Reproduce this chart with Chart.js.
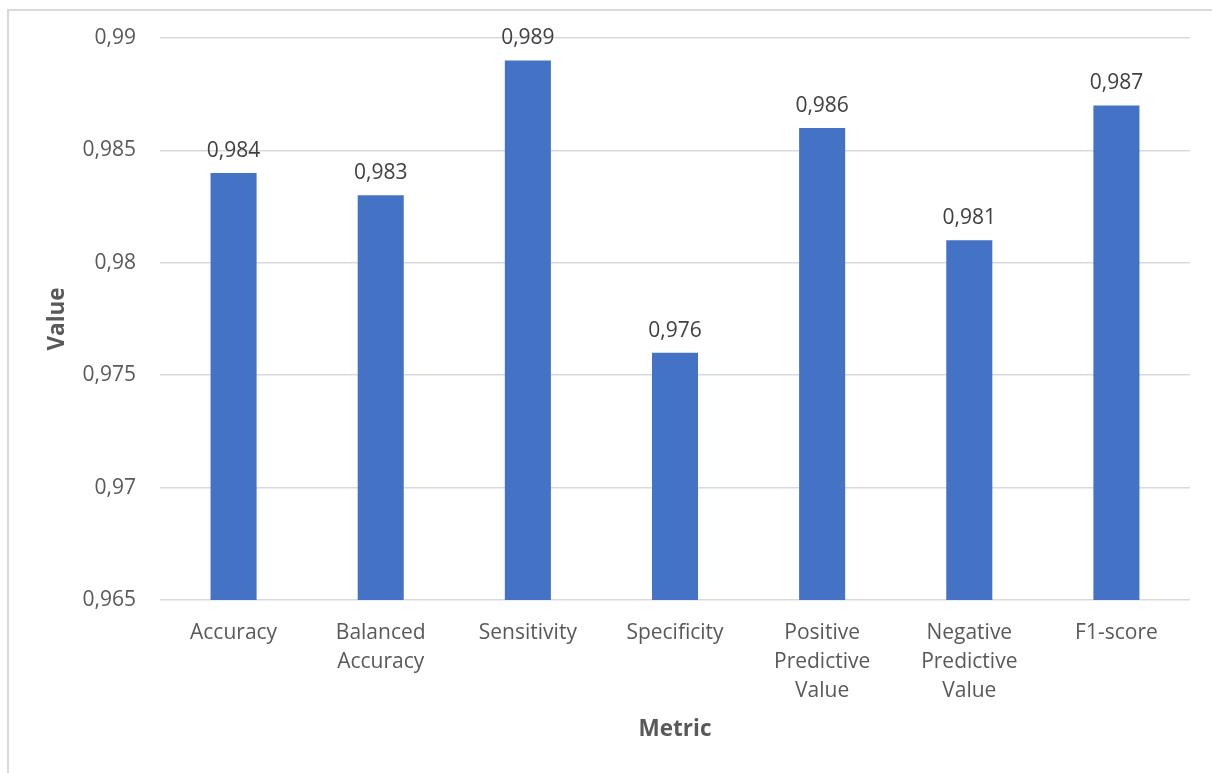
<!DOCTYPE html>
<html>
<head>
<meta charset="utf-8">
<script src="https://cdn.jsdelivr.net/npm/chart.js@4/dist/chart.umd.min.js"></script>
<style>
  html, body { margin: 0; padding: 0; background: #fff; overflow: hidden; }
  #frame {
    position: absolute; left: 7px; top: 9px; width: 1400px; height: 1000px;
    border: 2px solid #d9d9d9; box-sizing: border-box;
  }
  #wrap { position: absolute; left: 0; top: 0; width: 1212px; height: 773px; }
</style>
</head>
<body>
<div id="frame"></div>
<div id="wrap"><canvas id="metrics"></canvas></div>
<script>
const metricNames = [
  'Accuracy',
  ['Balanced', 'Accuracy'],
  'Sensitivity',
  'Specificity',
  ['Positive', 'Predictive', 'Value'],
  ['Negative', 'Predictive', 'Value'],
  'F1-score'
];
const metricValues = [0.984, 0.983, 0.989, 0.976, 0.986, 0.981, 0.987];
const yMin = 0.965;
const yMax = 0.99;
const yStep = 0.005;

const fontFamily = '"Open Sans", Lato, sans-serif';

function commaNum(v) {
  return Number(v.toFixed(3)).toString().replace('.', ',');
}

// value labels above each bar
const barValueLabels = {
  id: 'barValueLabels',
  afterDatasetsDraw(chart) {
    const ctx = chart.ctx;
    const meta = chart.getDatasetMeta(0);
    ctx.save();
    ctx.font = '21px ' + fontFamily;
    ctx.fillStyle = '#404040';
    ctx.textAlign = 'center';
    ctx.textBaseline = 'middle';
    meta.data.forEach((bar, i) => {
      ctx.fillText(commaNum(chart.data.datasets[0].data[i]), bar.x, bar.y - 22);
    });
    ctx.restore();
  }
};

new Chart(document.getElementById('metrics'), {
  type: 'bar',
  data: {
    labels: metricNames,
    datasets: [{
      label: 'Value',
      data: metricValues,
      backgroundColor: '#4472c4',
      categoryPercentage: 1,
      barPercentage: 0.313
    }]
  },
  options: {
    responsive: true,
    maintainAspectRatio: false,
    animation: false,
    layout: { padding: { left: 40, top: 38, right: 22, bottom: 26 } },
    plugins: {
      legend: { display: false },
      tooltip: { enabled: false }
    },
    scales: {
      x: {
        grid: { display: false },
        border: { display: false },
        ticks: {
          color: '#595959',
          font: { family: fontFamily, size: 21, lineHeight: '29px' },
          padding: 11,
          maxRotation: 0,
          autoSkip: false
        },
        title: {
          display: true,
          text: 'Metric',
          color: '#595959',
          font: { family: fontFamily, size: 22.5, weight: 'bold' },
          padding: 4
        },
        afterFit(scale) { scale.height = 147; }
      },
      y: {
        min: yMin,
        max: yMax,
        border: { display: false },
        grid: { color: '#d9d9d9', lineWidth: 1.5, drawTicks: false },
        ticks: {
          stepSize: yStep,
          color: '#595959',
          font: { family: fontFamily, size: 21 },
          padding: 24,
          callback: v => commaNum(v)
        },
        title: {
          display: true,
          text: 'Value',
          color: '#595959',
          font: { family: fontFamily, size: 22.5, weight: 'bold' },
          padding: 4
        },
        afterFit(scale) { scale.width = 120; }
      }
    }
  },
  plugins: [barValueLabels]
});
</script>
</body>
</html>
